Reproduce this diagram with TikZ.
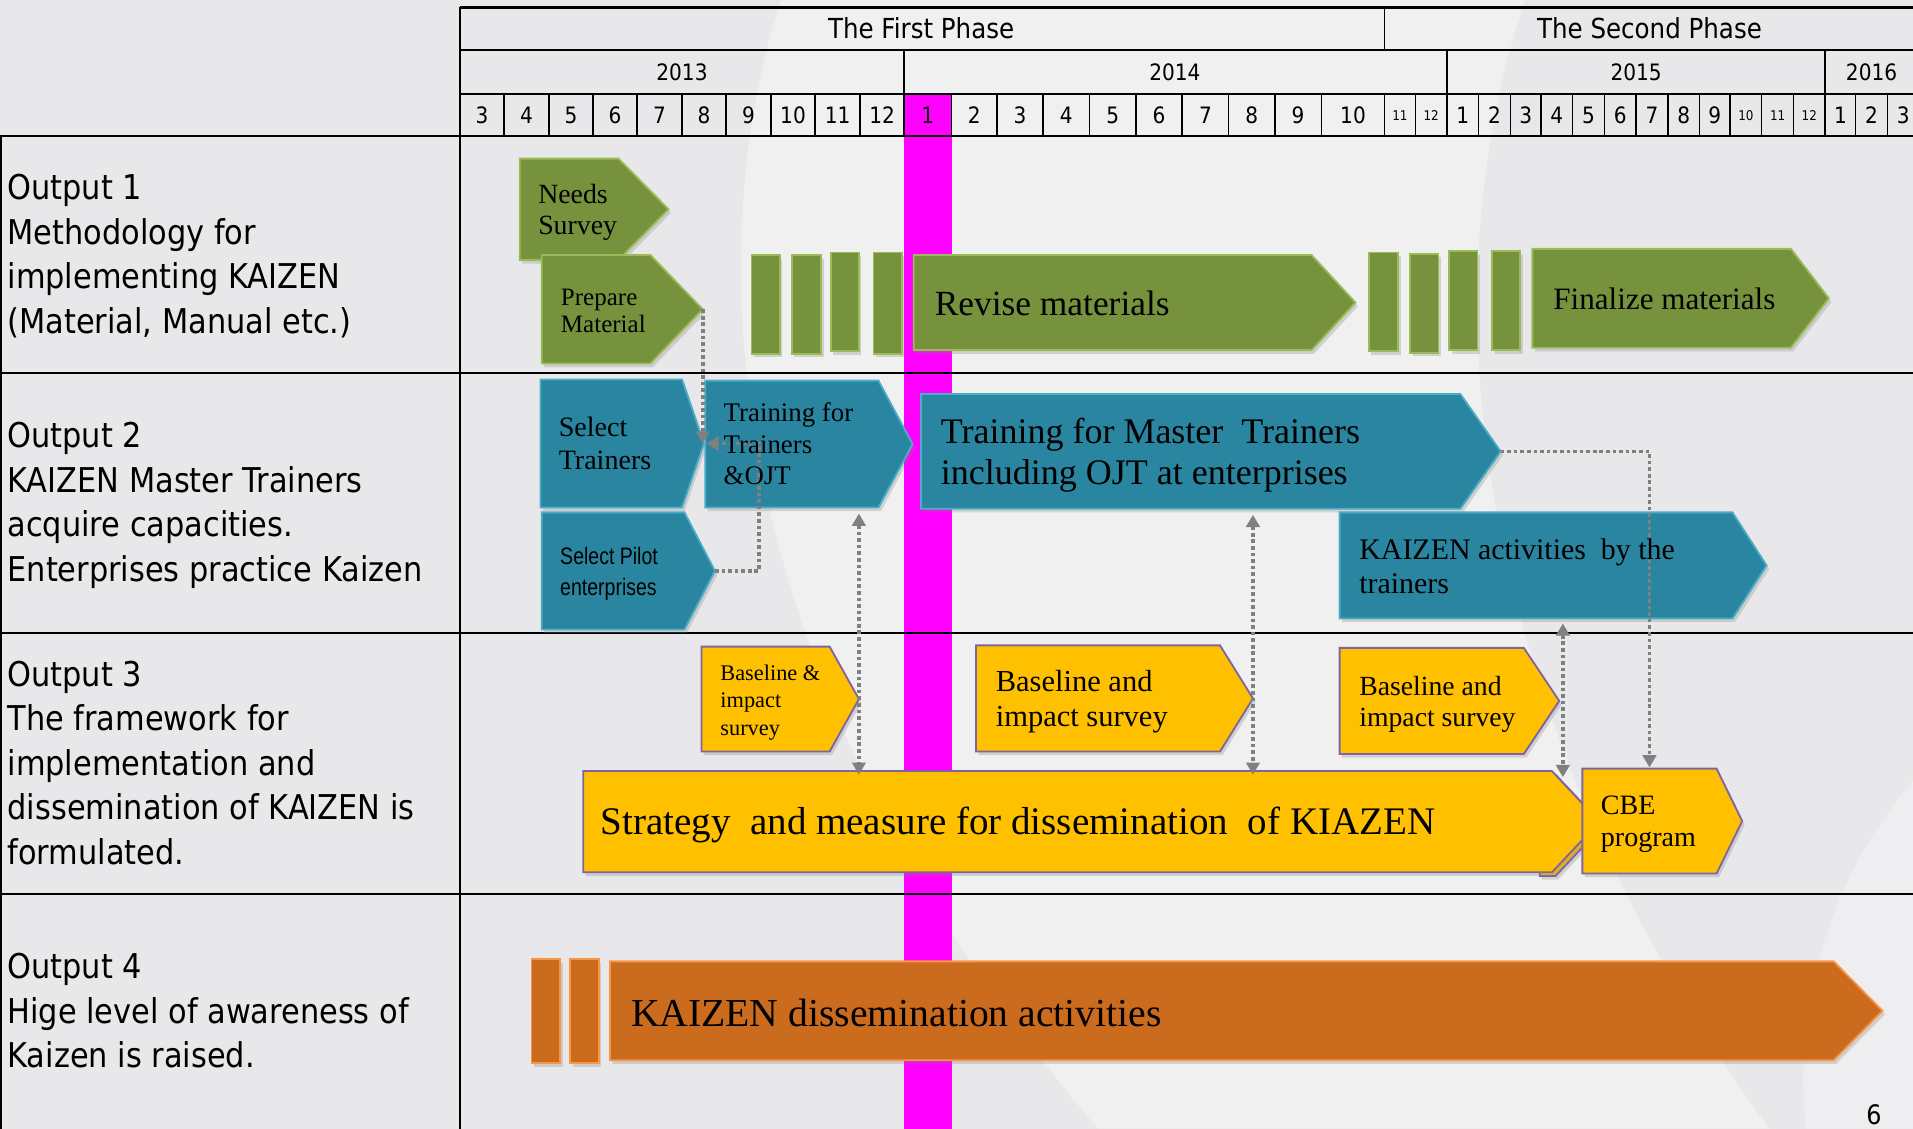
\documentclass[tikz,border=0pt]{standalone}
\usepackage{fontspec}
\usetikzlibrary{arrows.meta,shadows}
\newfontfamily\vsans[FakeStretch=0.89]{DejaVu Sans}
\newfontfamily\cser{Liberation Serif}
\newfontfamily\nsans[FakeStretch=0.82]{Liberation Sans}
\newcommand\sz[1]{\fontsize{#1}{#1}\selectfont}
\definecolor{bgc}{HTML}{E8E8EA}
\definecolor{kmag}{RGB}{255,0,255}
\definecolor{kgreen}{HTML}{76923C}
\definecolor{kgreenb}{HTML}{9BBB59}
\definecolor{kteal}{HTML}{2A86A0}
\definecolor{ktealb}{HTML}{4BACC6}
\definecolor{kyel}{HTML}{FFC000}
\definecolor{kyelb}{HTML}{8064A2}
\definecolor{korg}{HTML}{CB6B1E}
\definecolor{korgb}{HTML}{F79646}
\definecolor{dotg}{HTML}{808080}
\newcommand\penta[7]{%
  \path[#1] (#3,#4) -- (#5,#4) -- (#6,{(#4+#7)/2}) -- (#5,#7) -- (#3,#7) -- cycle;
  \coordinate (#2-tip) at (#6,{(#4+#7)/2});
}
\tikzset{
  shad/.style={drop shadow={shadow xshift=2pt,shadow yshift=-3pt,opacity=0.28}},
  greenbox/.style={fill=kgreen,draw=kgreenb,line width=1.5pt,shad},
  tealbox/.style={fill=kteal,draw=ktealb,line width=1.5pt,shad},
  yelbox/.style={fill=kyel,draw=kyelb,line width=1.5pt,shad},
  orgbox/.style={fill=korg,draw=korgb,line width=1.5pt,shad},
  txt/.style={inner sep=0pt,anchor=base west,text=black},
  hdr/.style={inner sep=0pt,anchor=center,font=\vsans\sz{18.5}},
  lbl/.style={inner sep=0pt,anchor=base west,font=\vsans\sz{28}},
  conn/.style={draw=dotg,line width=3pt,dash pattern=on 3pt off 2.4pt,-{Triangle[width=11pt,length=10pt]}},
  conn2/.style={draw=dotg,line width=3pt,dash pattern=on 3pt off 2.4pt,{Triangle[width=11pt,length=10pt]}-{Triangle[width=11pt,length=10pt]}},
  gline/.style={draw=black,line width=1.8pt},
  mline/.style={draw=black,line width=1.2pt},
}
\begin{document}
\begin{tikzpicture}[x=1pt,y=-1pt]
\useasboundingbox (0,0) rectangle (1568,925);
% background
\fill[bgc] (0,0) rectangle (1568,925);
\fill[white,opacity=0.35] (640,0) .. controls (560,250) and (620,600) .. (900,925) -- (1450,925) .. controls (1250,650) and (1150,300) .. (1250,0) -- cycle;
\fill[white,opacity=0.3] (1568,640) .. controls (1500,720) and (1470,820) .. (1480,925) -- (1568,925) -- cycle;
% magenta band
\fill[kmag] (741,77) rectangle (780,925);
% header grid
\draw[line width=2pt] (377,6) -- (1568,6);
\draw[gline] (377,41) -- (1568,41);
\draw[gline] (377,77) -- (1568,77);
\draw[line width=2pt] (0,111.5) -- (1568,111.5);
\draw[line width=2pt] (377,6) -- (377,925);
\draw[mline] (1135,6) -- (1135,41);
\foreach \xx in {741,1186,1496} \draw[mline] (\xx,41) -- (\xx,77);
\foreach \xx in {413,450,486,522,559,595,632,668,705,741,780,817,855,893,931,969,1007,1045,1083,1135,1160,1186,1212,1238,1263,1289,1315,1341,1367,1393,1418,1444,1470,1496,1521,1547}
  \draw[mline] (\xx,77) -- (\xx,111.5);
% row lines
\draw[gline] (0,306) -- (1568,306);
\draw[gline] (0,519) -- (1568,519);
\draw[gline] (0,733) -- (1568,733);
\draw[line width=2pt] (1,111.5) -- (1,925);
% header texts
\node[hdr,font=\vsans\sz{22.6}] (ph1) at (755,23.5) {The First Phase};
\node[hdr,font=\vsans\sz{22.6}] (ph2) at (1352,23.5) {The Second Phase};
\node[hdr] (y13) at (559,59) {2013};
\node[hdr] (y14) at (963,59) {2014};
\node[hdr] (y15) at (1341,59) {2015};
\node[hdr] (y16) at (1534,59) {2016};
\foreach \a/\b/\l/\s [count=\i] in {377/413/3/18.5,413/450/4/18.5,450/486/5/18.5,486/522/6/18.5,522/559/7/18.5,559/595/8/18.5,595/632/9/18.5,632/668/10/18.5,668/705/11/18.5,705/741/12/18.5,741/780/1/18.5,780/817/2/18.5,817/855/3/18.5,855/893/4/18.5,893/931/5/18.5,931/969/6/18.5,969/1007/7/18.5,1007/1045/8/18.5,1045/1083/9/18.5,1083/1135/10/18.5,1135/1160/11/11,1160/1186/12/11,1186/1212/1/18.5,1212/1238/2/18.5,1238/1263/3/18.5,1263/1289/4/18.5,1289/1315/5/18.5,1315/1341/6/18.5,1341/1367/7/18.5,1367/1393/8/18.5,1393/1418/9/18.5,1418/1444/10/11,1444/1470/11/11,1470/1496/12/11,1496/1521/1/18.5,1521/1547/2/18.5,1547/1573/3/18.5}
  \node[hdr,font=\vsans\sz{\s}] (m\i) at ({(\a+\b)/2},94.5) {\l};
% left column
\node[lbl] (o1a) at (6,163.5) {Output 1};
\node[lbl] (o1b) at (6,200) {Methodology for};
\node[lbl] (o1c) at (6,236.5) {implementing KAIZEN};
\node[lbl] (o1d) at (6,273) {(Material, Manual etc.)};
\node[lbl] (o2a) at (6,367) {Output 2};
\node[lbl] (o2b) at (6,403.5) {KAIZEN Master Trainers};
\node[lbl] (o2c) at (6,440) {acquire capacities.};
\node[lbl] (o2d) at (6,476.5) {Enterprises practice Kaizen};
\node[lbl] (o3a) at (6,562.3) {Output 3};
\node[lbl] (o3b) at (6,598.8) {The framework for};
\node[lbl] (o3c) at (6,635.3) {implementation and};
\node[lbl] (o3d) at (6,671.7) {dissemination of KAIZEN is};
\node[lbl] (o3e) at (6,708.2) {formulated.};
\node[lbl] (o4a) at (6,802) {Output 4};
\node[lbl] (o4b) at (6,838.6) {Hige level of awareness of};
\node[lbl] (o4c) at (6,875) {Kaizen is raised.};
% ---------- Output 1 boxes
\penta{greenbox}{ns}{426}{130}{507}{548}{213}
\penta{greenbox}{pm}{444}{209}{533}{576}{298}
\path[greenbox] (616,209) rectangle (639,290);
\path[greenbox] (649,209) rectangle (673,290);
\path[greenbox] (681,207) rectangle (704,288);
\path[greenbox] (716,207) rectangle (739,290);
\penta{greenbox}{rv}{749}{209}{1075}{1111}{287}
\path[greenbox] (1122,207) rectangle (1146,288);
\path[greenbox] (1156,208) rectangle (1179,289);
\path[greenbox] (1188,206) rectangle (1211,287);
\path[greenbox] (1223,206) rectangle (1246,287);
\penta{greenbox}{fm}{1256}{204}{1468}{1499}{285}
% ---------- Output 2 boxes
\penta{tealbox}{st}{443}{311}{559}{577}{416}
\penta{tealbox}{tt}{578}{312}{720}{748}{416}
\penta{tealbox}{sp}{444}{420}{561}{586}{516}
\penta{tealbox}{tmt}{755}{323}{1197}{1230}{417}
\penta{tealbox}{ka}{1098}{420}{1420}{1448}{507}
% ---------- Output 3 boxes
\penta{yelbox}{b1}{575}{530}{680}{704}{616}
\penta{yelbox}{b2}{800}{529}{1000}{1027}{616}
\penta{yelbox}{b3}{1098}{531}{1249}{1278}{618}
\penta{yelbox}{strs}{1262}{635}{1275}{1314}{718}
\penta{yelbox}{str}{478}{632}{1272}{1311}{715}
\penta{yelbox}{cbe}{1297}{630}{1407}{1428}{716}
% ---------- Output 4 boxes
\path[orgbox] (435.7,786) rectangle (459.3,871.6);
\path[orgbox] (467.5,786) rectangle (491,871.6);
\penta{orgbox}{kd}{500}{788}{1503}{1543}{869}
% ---------- connectors
\coordinate (tt-w) at (579,363.5);
\coordinate (k2) at (622,468);
\coordinate (tt-b) at (704,421);
\coordinate (str-a) at (704,635);
\coordinate (tmt-b) at (1027,422);
\coordinate (str-b) at (1027,635);
\coordinate (ka-b) at (1281,511);
\coordinate (str-c) at (1281,637);
\coordinate (k6) at (1352,370);
\coordinate (cbe-t) at (1352,629);
\draw[conn] (pm-tip) -- (pm-tip |- st-tip);
\draw[conn] (sp-tip) -- (k2) |- (tt-w);
\draw[conn2] (tt-b) -- (str-a);
\draw[conn2] (tmt-b) -- (str-b);
\draw[conn2] (ka-b) -- (str-c);
\draw[conn] (tmt-tip) -- (k6) -- (cbe-t);
% ---------- box texts
\node[txt,font=\cser\sz{22.8}] (tns1) at (441,166.7) {Needs};
\node[txt,font=\cser\sz{22.8}] (tns2) at (441,192.6) {Survey};
\node[txt,font=\cser\sz{20.5}] (tpm1) at (459.6,250) {Prepare};
\node[txt,font=\cser\sz{20.5}] (tpm2) at (459.6,272.7) {Material};
\node[txt,font=\cser\sz{29}] (trv) at (766,258.2) {Revise materials};
\node[txt,font=\cser\sz{25.5}] (tfm) at (1273,253.5) {Finalize materials};
\node[txt,font=\cser\sz{23}] (tst1) at (457.8,358) {Select};
\node[txt,font=\cser\sz{23}] (tst2) at (457.8,384.7) {Trainers};
\node[txt,font=\cser\sz{22}] (ttt1) at (593,345.6) {Training for};
\node[txt,font=\cser\sz{22}] (ttt2) at (593,371.6) {Trainers};
\node[txt,font=\cser\sz{22}] (ttt3) at (593,397) {\&OJT};
\node[txt,font=\nsans\sz{19.5}] (tsp1) at (459,463) {Select Pilot};
\node[txt,font=\nsans\sz{19.5}] (tsp2) at (459,487.7) {enterprises};
\node[txt,font=\cser\sz{29.5}] (ttmt1) at (771,363.6) {Training for Master\ \ Trainers};
\node[txt,font=\cser\sz{29.5}] (ttmt2) at (771,397.5) {including OJT at enterprises};
\node[txt,font=\cser\sz{24.5}] (tka1) at (1114,459) {KAIZEN activities\ \ by the};
\node[txt,font=\cser\sz{24.5}] (tka2) at (1114,486.3) {trainers};
\node[txt,font=\cser\sz{18.3}] (tb11) at (590.3,558) {Baseline \&};
\node[txt,font=\cser\sz{18.3}] (tb12) at (590.3,579.8) {impact};
\node[txt,font=\cser\sz{18.3}] (tb13) at (590.3,602.5) {survey};
\node[txt,font=\cser\sz{25}] (tb21) at (816,567) {Baseline and};
\node[txt,font=\cser\sz{25}] (tb22) at (816,595.6) {impact survey};
\node[txt,font=\cser\sz{22.7}] (tb31) at (1114,569.7) {Baseline and};
\node[txt,font=\cser\sz{22.7}] (tb32) at (1114,595.6) {impact survey};
\node[txt,font=\cser\sz{32}] (tstr) at (492,683.6) {Strategy\ \ and measure for dissemination\ \ of KIAZEN};
\node[txt,font=\cser\sz{23}] (tcbe1) at (1312,668) {CBE};
\node[txt,font=\cser\sz{23}] (tcbe2) at (1312,694) {program};
\node[txt,font=\cser\sz{32.5}] (tkd) at (517,841.5) {KAIZEN dissemination activities};
% page number
\node[inner sep=0pt,anchor=south,font=\vsans\sz{22}] (pg) at (1536,922) {6};
\end{tikzpicture}
\end{document}
